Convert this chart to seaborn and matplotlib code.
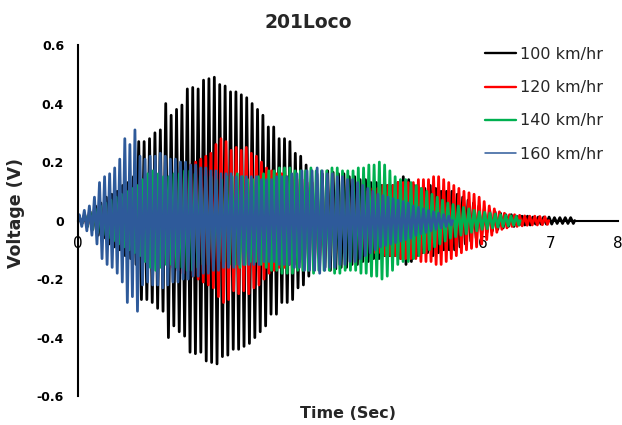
import numpy as np
import pandas as pd
import matplotlib
matplotlib.use("Agg")
import matplotlib.pyplot as plt
from matplotlib.lines import Line2D
import seaborn as sns

# ------------------------------------------------------------------
# Data: peak amplitude (V) of every cycle
# ------------------------------------------------------------------
speeds = ["100 km/hr", "120 km/hr", "140 km/hr", "160 km/hr"]
colors = ["#000000", "#ff0000", "#00b050", "#2e5a9a"]
periods = [0.080, 0.075, 0.078, 0.075]   # seconds per cycle

amp_100 = [0.01, 0.02, 0.03, 0.05, 0.06, 0.08, 0.09, 0.10, 0.12, 0.13, 0.15,
           0.27, 0.27, 0.28, 0.30, 0.31, 0.40, 0.36, 0.38, 0.395, 0.45, 0.455, 0.45, 0.48, 0.485, 0.49,
           0.465, 0.46, 0.44, 0.44, 0.43, 0.42, 0.40, 0.38, 0.36, 0.32, 0.32, 0.28, 0.28, 0.27,
           0.23, 0.22, 0.19, 0.17,
           0.16, 0.16, 0.17, 0.165, 0.16, 0.16, 0.15, 0.15, 0.14, 0.14, 0.13, 0.13,
           0.12, 0.12, 0.12, 0.13, 0.15, 0.14, 0.12, 0.11, 0.11, 0.12, 0.11, 0.10, 0.10,
           0.10, 0.09, 0.08, 0.07, 0.06, 0.05, 0.04, 0.035, 0.03, 0.025, 0.02, 0.02,
           0.015, 0.015, 0.015, 0.012, 0.012, 0.012, 0.012, 0.01, 0.01, 0.01, 0.01]

amp_120 = [0.01, 0.02, 0.03, 0.04, 0.05, 0.06, 0.07, 0.08, 0.09, 0.10, 0.10, 0.11, 0.12, 0.13,
           0.14, 0.13, 0.15, 0.16, 0.16, 0.17, 0.18, 0.17, 0.19, 0.20, 0.21, 0.22,
           0.23, 0.26, 0.28, 0.27, 0.24, 0.25, 0.24, 0.25, 0.23, 0.22, 0.20,
           0.18, 0.17, 0.16, 0.16, 0.15, 0.15, 0.14, 0.14, 0.13,
           0.13, 0.12, 0.12, 0.12, 0.11, 0.11, 0.11, 0.10, 0.10, 0.10, 0.10, 0.10,
           0.11, 0.11, 0.12, 0.12, 0.12, 0.13,
           0.13, 0.13, 0.13, 0.14, 0.14, 0.14, 0.15, 0.15, 0.14, 0.13,
           0.12, 0.11, 0.10, 0.095, 0.09, 0.08, 0.065, 0.05, 0.04, 0.03, 0.025,
           0.02, 0.02, 0.018, 0.016, 0.015, 0.015, 0.014, 0.013]

amp_140 = [0.01, 0.02, 0.03, 0.04, 0.05, 0.06, 0.07, 0.08, 0.09, 0.10, 0.11, 0.12,
           0.14, 0.16, 0.17, 0.16, 0.15, 0.15, 0.16, 0.16, 0.17,
           0.17, 0.16, 0.15, 0.15, 0.15, 0.14, 0.14, 0.15, 0.15, 0.16, 0.15, 0.14, 0.14,
           0.15, 0.16, 0.17, 0.17, 0.18,
           0.18, 0.18, 0.17, 0.17, 0.17, 0.18, 0.17, 0.17, 0.17, 0.18, 0.18, 0.17, 0.17,
           0.17, 0.18, 0.18, 0.19, 0.19, 0.20, 0.19, 0.17, 0.15, 0.14, 0.14, 0.13,
           0.12, 0.11, 0.10, 0.09, 0.08, 0.07, 0.06, 0.055, 0.05,
           0.045, 0.04, 0.035, 0.03, 0.028, 0.025, 0.022, 0.02, 0.018, 0.016, 0.015]

amp_160 = [0.02, 0.035, 0.05, 0.08, 0.13, 0.15, 0.16, 0.18, 0.21, 0.28, 0.26, 0.31,
           0.22, 0.21, 0.22, 0.22, 0.23, 0.22, 0.21, 0.21, 0.20,
           0.20, 0.19, 0.19, 0.18, 0.18, 0.17, 0.17,
           0.16, 0.16, 0.16, 0.15, 0.15, 0.15, 0.15, 0.15, 0.14, 0.14, 0.14, 0.15, 0.15, 0.15, 0.16,
           0.16, 0.17, 0.17, 0.17, 0.18, 0.17, 0.16, 0.16, 0.15, 0.15, 0.14, 0.14, 0.13,
           0.12, 0.11, 0.10, 0.09, 0.085, 0.08, 0.075, 0.07, 0.065, 0.06, 0.05, 0.045,
           0.04, 0.035, 0.03, 0.025, 0.02, 0.015]

amplitudes = [amp_100, amp_120, amp_140, amp_160]

x_ticks = [0, 1, 2, 3, 4, 5, 6, 7, 8]
y_ticks = [-0.6, -0.4, -0.2, 0, 0.2, 0.4, 0.6]
y_tick_labels = ["-0.6", "-0.4", "-0.2", "0", "0.2", "0.4", "0.6"]


# each cycle: positive peak at 1/4 period, negative peak at 3/4 period
def zigzag(amps, period):
    amps = np.asarray(amps)
    k = np.arange(len(amps))
    t = np.column_stack([(k + 0.25) * period, (k + 0.75) * period]).ravel()
    v = np.column_stack([amps, -amps]).ravel()
    t = np.concatenate([[0.0], t, [len(amps) * period]])
    v = np.concatenate([[0.0], v, [0.0]])
    return t, v


frames = []
for name, amps, per in zip(speeds, amplitudes, periods):
    t, v = zigzag(amps, per)
    frames.append(pd.DataFrame({"time": t, "voltage": v, "speed": name}))
df = pd.concat(frames, ignore_index=True)

# ------------------------------------------------------------------
# Plot
# ------------------------------------------------------------------
sns.set_theme(style="white")
plt.rcParams["font.family"] = ["DejaVu Sans"]

fig = plt.figure(figsize=(6.22, 4.25), dpi=100)
ax = fig.add_axes([0.1254, 0.068, 0.868, 0.826])

sns.lineplot(data=df, x="time", y="voltage", hue="speed", hue_order=speeds,
             palette=dict(zip(speeds, colors)), estimator=None, sort=False,
             linewidth=2.0, legend=False, ax=ax)

ax.set_xlim(0, 8)
ax.set_ylim(-0.6, 0.6)
ax.set_xticks(x_ticks)
ax.set_xticklabels([str(x) for x in x_ticks], fontsize=9, fontweight="bold")
ax.set_yticks(y_ticks)
ax.set_yticklabels(y_tick_labels, fontsize=9, fontweight="bold")

for side in ["top", "right"]:
    ax.spines[side].set_visible(False)
ax.spines["bottom"].set_position(("data", 0))
for side in ["left", "bottom"]:
    ax.spines[side].set_color("black")
    ax.spines[side].set_linewidth(1.5)
# the zero axis line sits under the traces, as in the original
ax.spines["bottom"].set_zorder(1.5)
ax.tick_params(axis="both", direction="out", length=4, width=1.5, colors="black", pad=6)
ax.tick_params(axis="x", pad=7)

ax.set_xlabel("")
ax.set_ylabel("")
fig.text(0.56, 0.028, "Time (Sec)", ha="center", va="center", fontsize=11.5, fontweight="bold")
fig.text(0.026, 0.5, "Voltage (V)", ha="center", va="center", rotation=90,
         fontsize=12.5, fontweight="bold")
fig.text(0.495, 0.948, "201Loco", ha="center", va="center", fontsize=13.5, fontweight="bold")

handles = [Line2D([0], [0], color=c, lw=1.7 if c != colors[3] else 1.1) for c in colors]
ax.legend(handles, speeds, loc="upper left", bbox_to_anchor=(0.78, 0.89),
          bbox_transform=fig.transFigure, frameon=False, fontsize=11.5,
          handlelength=1.9, handletextpad=0.3, labelspacing=1.15,
          borderpad=0, borderaxespad=0)

fig.savefig("out.png", dpi=100)
